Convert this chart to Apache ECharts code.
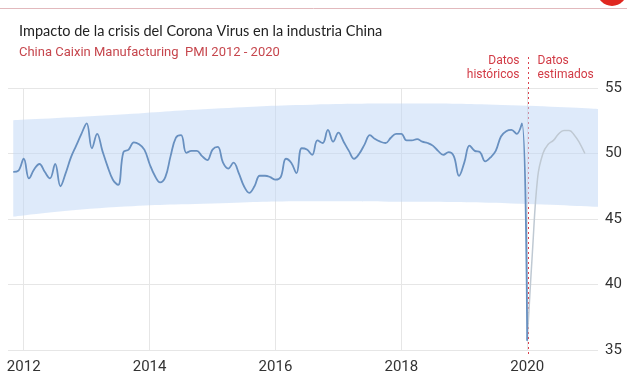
<!DOCTYPE html>
<html>
<head>
<meta charset="utf-8">
<script src="https://cdn.jsdelivr.net/npm/echarts@6/dist/echarts.min.js"></script>
<style>
  html, body { margin: 0; padding: 0; background: #fff; }
  #chart { width: 627px; height: 376px; }
</style>
</head>
<body>
<div id="chart"></div>
<script>
// month index: 0 = Jan 2012
const histStart = -2;
const histValues = [
  48.6, 48.7,
  49.6, 48.1, 48.8, 49.2, 48.6, 48.1, 49.2, 47.5, 48.5, 49.7, 50.6, 51.5,
  52.3, 50.4, 51.5, 50.2, 49.0, 48.0, 47.6, 50.1, 50.3, 50.85, 50.7, 50.3,
  49.2, 48.3, 47.8, 48.2, 49.8, 51.2, 51.4, 50.05, 50.2, 50.2, 49.8, 49.5,
  50.3, 50.5, 49.3, 48.85, 49.3, 48.5, 47.5, 47.0, 47.5, 48.3, 48.3, 48.2,
  48.0, 48.2, 49.6, 49.3, 48.5, 50.4, 50.3, 49.9, 51.0, 50.8, 51.8, 50.9,
  51.6, 50.9, 50.2, 49.6, 50.0, 50.7, 51.4, 51.1, 50.9, 50.8, 51.2, 51.5,
  51.5, 51.0, 51.0, 51.1, 50.9, 50.8, 50.6, 50.2, 49.9, 50.1, 49.8, 48.3,
  49.3, 50.6, 50.2, 50.1, 49.4, 49.7, 50.2, 51.3, 51.7, 51.8, 51.5, 52.3,
  35.7
];
const estStart = 96;
const estValues = [35.7, 42.5, 48.2, 50.0, 50.7, 51.0, 51.5, 51.75, 51.75, 51.4, 50.8, 50.0];

const bandMonths = [-2, 16, 36, 55, 74, 93, 109.5];
const bandLow = [45.17, 45.87, 46.19, 46.36, 46.31, 46.19, 45.93];
const bandHigh = [52.54, 52.92, 53.42, 53.73, 53.81, 53.68, 53.4];

const yearTicks = [0, 24, 48, 72, 96];
const splitMonth = 96.25;

const histData = histValues.map((v, i) => [histStart + i, v]);
const estData = estValues.map((v, i) => [estStart + i, v]);
// band rows are [value, month] so the stack lands on the value
const bandLowData = bandMonths.map((m, i) => [bandLow[i], m]);
const bandWidthData = bandMonths.map((m, i) => [bandHigh[i] - bandLow[i], m]);

const chart = echarts.init(document.getElementById('chart'));

const option = {
  animation: false,
  textStyle: { fontFamily: 'Roboto' },
  title: {
    text: 'Impacto de la crisis del Corona Virus en la industria China',
    subtext: 'China Caixin Manufacturing  PMI 2012 - 2020',
    left: 14,
    top: 19,
    itemGap: 7,
    textStyle: { fontFamily: 'Lato', fontSize: 14.5, fontWeight: 'normal', color: '#222' },
    subtextStyle: { fontFamily: 'Roboto', fontSize: 13, color: '#c6464d' }
  },
  grid: { left: 8, right: 29, top: 88, bottom: 26 },
  xAxis: {
    type: 'value',
    min: -3,
    max: 109.5,
    axisLine: { show: false },
    axisTick: { show: false, customValues: yearTicks },
    splitLine: { show: true, lineStyle: { color: '#e6e6e6' } },
    axisLabel: {
      customValues: yearTicks,
      formatter: v => String(2012 + v / 12),
      fontSize: 15,
      color: '#333',
      margin: 10
    }
  },
  yAxis: {
    type: 'value',
    position: 'right',
    min: 35,
    max: 55,
    interval: 5,
    axisLine: { show: false },
    axisTick: { show: false },
    axisLabel: { fontSize: 15, color: '#333', margin: 7 },
    splitLine: { lineStyle: { color: '#e6e6e6' } }
  },
  series: [
    {
      name: 'bandLow',
      type: 'line',
      stack: 'band',
      z: 1,
      smooth: true,
      symbol: 'none',
      silent: true,
      encode: { x: 1, y: 0 },
      lineStyle: { opacity: 0 },
      data: bandLowData
    },
    {
      name: 'bandHigh',
      type: 'line',
      stack: 'band',
      z: 1,
      smooth: true,
      symbol: 'none',
      silent: true,
      encode: { x: 1, y: 0 },
      lineStyle: { opacity: 0 },
      areaStyle: { color: 'rgba(190,213,245,0.72)' },
      data: bandWidthData
    },
    {
      name: 'Estimado',
      type: 'line',
      z: 3,
      smooth: 0.4,
      symbol: 'none',
      lineStyle: { color: '#bfc9d3', width: 1.5 },
      data: estData
    },
    {
      name: 'PMI',
      type: 'line',
      z: 4,
      smooth: 0.4,
      symbol: 'none',
      lineStyle: { color: '#6890c0', width: 1.8 },
      data: histData
    }
  ]
};

chart.setOption(option);

// annotations placed through the axis scale
const sx = chart.convertToPixel({ xAxisIndex: 0 }, splitMonth);
chart.setOption({
  graphic: [
    { type: 'line', shape: { x1: 0, y1: 8.5, x2: 627, y2: 8.5 }, style: { stroke: '#e2b9bd', lineWidth: 1 }, silent: true },
    { type: 'circle', shape: { cx: 612, cy: -9, r: 15 }, style: { fill: '#e0261f' }, silent: true },
    { type: 'line', shape: { x1: sx, y1: 57, x2: sx, y2: 357 }, style: { stroke: '#d9434f', lineWidth: 1, lineDash: [2, 3] }, silent: true },
    { type: 'text', x: sx - 9, y: 61, style: { text: 'Datos', fill: '#d23a45', font: '12px Roboto', align: 'right', verticalAlign: 'middle' } },
    { type: 'text', x: sx - 9, y: 75, style: { text: 'históricos', fill: '#d23a45', font: '12px Roboto', align: 'right', verticalAlign: 'middle' } },
    { type: 'text', x: sx + 9, y: 61, style: { text: 'Datos', fill: '#d23a45', font: '12px Roboto', align: 'left', verticalAlign: 'middle' } },
    { type: 'text', x: sx + 9, y: 75, style: { text: 'estimados', fill: '#d23a45', font: '12px Roboto', align: 'left', verticalAlign: 'middle' } }
  ]
});
</script>
</body>
</html>
